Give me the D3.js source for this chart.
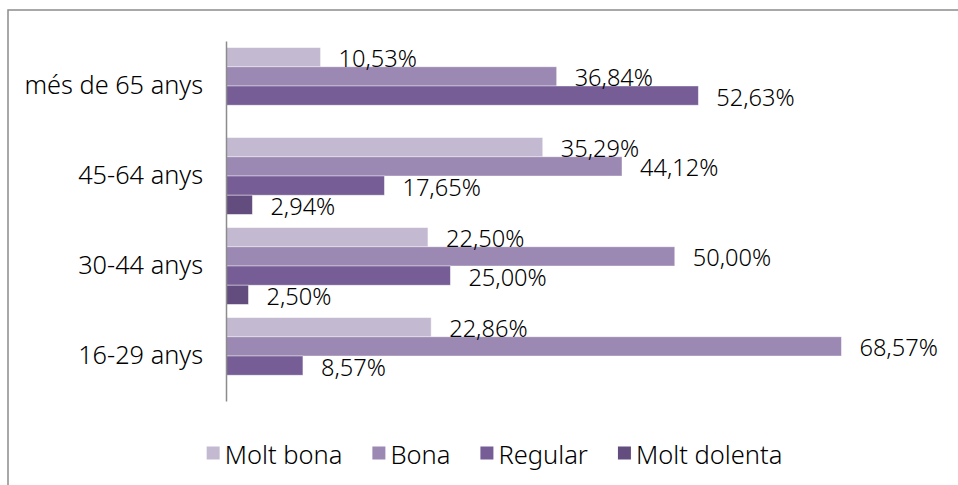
<!DOCTYPE html>
<html>
<head>
<meta charset="utf-8">
<script src="https://cdn.jsdelivr.net/npm/d3@7"></script>
<style>
  body { margin: 0; background: #fff; }
  svg { display: block; font-family: "Noto Sans", sans-serif; font-weight: 300; }
</style>
</head>
<body>
<svg id="chart" width="958" height="485"></svg>
<script>
// ---------------- data ----------------
var categories = ["més de 65 anys", "45-64 anys", "30-44 anys", "16-29 anys"];
var seriesNames = ["Molt bona", "Bona", "Regular", "Molt dolenta"];
var moltBona    = [10.53, 35.29, 22.50, 22.86];
var bona        = [36.84, 44.12, 50.00, 68.57];
var regular     = [52.63, 17.65, 25.00, 8.57];
var moltDolenta = [null, 2.94, 2.50, null];
var colors = ["#c3bad1", "#9b88b3", "#765d96", "#634d7e"];

var seriesValues = [moltBona, bona, regular, moltDolenta];

var rows = [];
categories.forEach(function(c, i){
    seriesNames.forEach(function(s, j){
        rows.push({cat: c, series: s, value: seriesValues[j][i], color: colors[j]});
    });
});

// ---------------- layout ----------------
var svg = d3.select("#chart");
var W = 958, H = 485;
var plotLeft = 226, plotRight = 944, plotTop = 41, plotBottom = 401;

// frame (left + top edges visible)
svg.append("path")
    .attr("d", "M8," + H + " V10 H" + W)
    .attr("fill", "none")
    .attr("stroke", "#8c8c8c")
    .attr("stroke-width", 1.5);

// scales
var x = d3.scaleLinear().domain([0, 80]).range([plotLeft, plotRight]);
var y0 = d3.scaleBand().domain(categories).range([plotTop, plotBottom])
    .paddingInner(0.1467).paddingOuter(0.0733);
var y1 = d3.scaleBand().domain(seriesNames).range([0, y0.bandwidth()]);

// bars
svg.append("g").selectAll("rect")
    .data(rows.filter(function(d){ return d.value != null; }))
    .join("rect")
    .attr("x", x(0))
    .attr("y", function(d){ return y0(d.cat) + y1(d.series); })
    .attr("width", function(d){ return x(d.value) - x(0); })
    .attr("height", y1.bandwidth())
    .attr("fill", function(d){ return d.color; })
    .attr("stroke", "rgba(255,255,255,0.5)")
    .attr("stroke-width", 0.8);

// axis (vertical line, category labels)
var yAxis = d3.axisLeft(y0).tickSize(0).tickPadding(23);
var ga = svg.append("g")
    .attr("transform", "translate(" + plotLeft + ",0)")
    .call(yAxis);
ga.select(".domain").attr("stroke", "#8c8c8c").attr("stroke-width", 1.5);
ga.selectAll("text")
    .attr("font-family", "Noto Sans, sans-serif")
    .attr("font-size", 25.3)
    .attr("fill", "#000");

// value labels
function fmt(v){ return v.toFixed(2).replace(".", ",") + "%"; }
svg.append("g").selectAll("text")
    .data(rows.filter(function(d){ return d.value != null; }))
    .join("text")
    .attr("x", function(d){ return x(d.value) + 18; })
    .attr("y", function(d){ return y0(d.cat) + y1(d.series) + y1.bandwidth() / 2 + 1; })
    .attr("dominant-baseline", "central")
    .attr("font-size", 23.6)
    .attr("fill", "#000")
    .text(function(d){ return fmt(d.value); });

// legend
var legend = svg.append("g");
var lx = 0;
seriesNames.forEach(function(s, j){
    var item = legend.append("g").attr("transform", "translate(" + lx + ",0)");
    item.append("rect")
        .attr("x", 0).attr("y", -6.5)
        .attr("width", 13).attr("height", 13)
        .attr("fill", colors[j]);
    var t = item.append("text")
        .attr("x", 18)
        .attr("y", 1)
        .attr("dominant-baseline", "central")
        .attr("font-size", 25.5)
        .attr("fill", "#000")
        .text(s);
    lx += 18 + t.node().getComputedTextLength() + 30;
});
var legendW = lx - 30;
legend.attr("transform", "translate(" + (494.5 - legendW / 2) + ",453)");
</script>
</body>
</html>
